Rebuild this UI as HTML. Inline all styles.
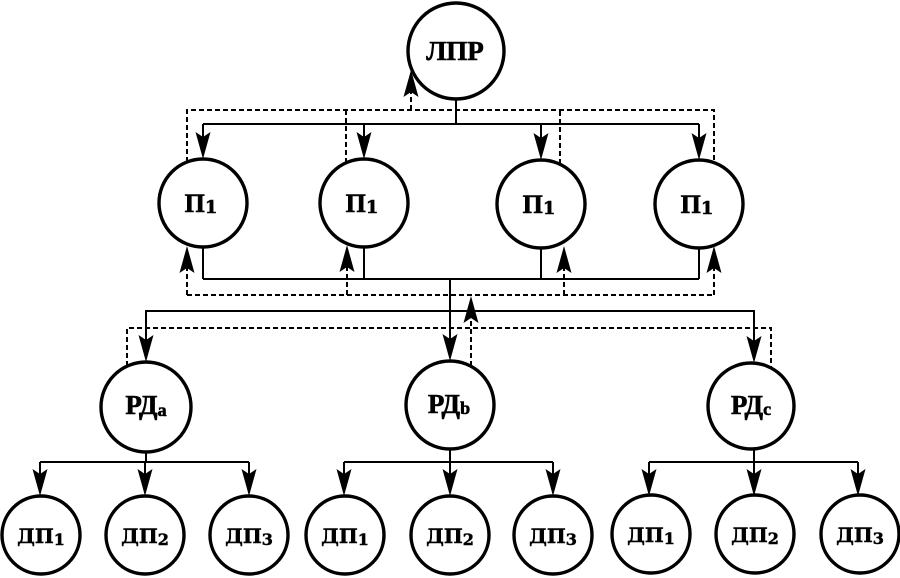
<!DOCTYPE html>
<html>
<head>
<meta charset="utf-8">
<style>
html,body{margin:0;padding:0;background:#fff;}
svg{display:block;}
.c{fill:#fff;stroke:#000;stroke-width:3.4;}
.s{stroke:#000;stroke-width:2;fill:none;}
.d{stroke:#000;stroke-width:2;fill:none;stroke-dasharray:5 3;}
.t{font-family:"Liberation Serif","DejaVu Serif",serif;font-weight:bold;fill:#000;stroke:#000;stroke-width:0.6;}
.t2{font-family:"DejaVu Serif","Liberation Serif",serif;font-weight:bold;fill:#000;stroke:#000;stroke-width:0.5;}
</style>
</head>
<body>
<svg width="900" height="578" viewBox="0 0 900 578" xmlns="http://www.w3.org/2000/svg">
<defs>
  <path id="ad" d="M0,0 L-7.5,-27 L0,-22 L7.5,-27 Z" fill="#000"/>
  <path id="au" d="M0,0 L-7.5,27 L0,22 L7.5,27 Z" fill="#000"/>
</defs>

<!-- ===== Top connectors ===== -->
<path class="s" d="M456,99 V124 M203,124 H699"/>
<path class="s" d="M203,124 V140 M364,124 V140 M541,124 V140 M699,124 V140"/>
<use href="#ad" x="203" y="159"/>
<use href="#ad" x="364" y="159"/>
<use href="#ad" x="541" y="160"/>
<use href="#ad" x="699" y="160"/>
<path class="d" d="M187,162 V110 H714 V162"/>
<path class="d" d="M346,163 V110"/>
<path class="d" d="M560,164 V110"/>
<path class="d" d="M411,110 V90"/>
<use href="#au" x="411" y="70"/>

<!-- ===== Middle connectors ===== -->
<path class="s" d="M203,247 V279 M364,247 V279 M541,248 V279 M699,248 V279 M203,279 H699"/>
<path class="d" d="M187,295 H714"/>
<path class="d" d="M187,295 V266 M347,295 V264 M564,295 V266 M714,295 V266"/>
<use href="#au" x="187" y="246"/>
<use href="#au" x="347" y="245"/>
<use href="#au" x="564" y="246"/>
<use href="#au" x="714" y="246"/>

<path class="s" d="M450,279 V342"/>
<use href="#ad" x="450" y="361"/>
<path class="d" d="M471,366 V316"/>
<use href="#au" x="471" y="296"/>

<path class="s" d="M146,343 V311 H754 V343"/>
<use href="#ad" x="146" y="362"/>
<use href="#ad" x="754" y="363"/>
<path class="d" d="M127,366 V328 H771 V368"/>

<!-- ===== Bottom connectors ===== -->
<path class="s" d="M146,452 V462 M40,462 H249 M40,462 V477 M145,462 V477 M249,462 V477"/>
<use href="#ad" x="40" y="496"/>
<use href="#ad" x="145" y="496"/>
<use href="#ad" x="249" y="496"/>

<path class="s" d="M450,449 V462 M344,462 H553 M344,462 V477 M450,462 V477 M553,462 V477"/>
<use href="#ad" x="344" y="496"/>
<use href="#ad" x="450" y="496"/>
<use href="#ad" x="553" y="496"/>

<path class="s" d="M754,449 V462 M649,462 H858 M649,462 V477 M754,462 V477 M858,462 V477"/>
<use href="#ad" x="649" y="496"/>
<use href="#ad" x="754" y="496"/>
<use href="#ad" x="858" y="496"/>

<!-- ===== Nodes ===== -->
<circle class="c" cx="456" cy="51" r="48"/>
<text class="t" x="455" y="60" font-size="27" text-anchor="middle">ЛПР</text>

<circle class="c" cx="203" cy="203" r="44"/>
<circle class="c" cx="364" cy="203" r="44"/>
<circle class="c" cx="541" cy="204" r="44"/>
<circle class="c" cx="699" cy="204" r="44"/>
<text class="t" x="201" y="212" font-size="26" text-anchor="middle">П<tspan class="t2" font-size="18" dy="1">1</tspan></text>
<text class="t" x="362" y="212" font-size="26" text-anchor="middle">П<tspan class="t2" font-size="18" dy="1">1</tspan></text>
<text class="t" x="539" y="213" font-size="26" text-anchor="middle">П<tspan class="t2" font-size="18" dy="1">1</tspan></text>
<text class="t" x="697" y="213" font-size="26" text-anchor="middle">П<tspan class="t2" font-size="18" dy="1">1</tspan></text>

<circle class="c" cx="146" cy="407" r="45"/>
<circle class="c" cx="450" cy="405" r="44"/>
<circle class="c" cx="751" cy="406" r="43"/>
<text class="t" x="146" y="414" font-size="27" text-anchor="middle">РД<tspan font-size="18" dy="2">a</tspan></text>
<text class="t" x="449" y="413" font-size="27" text-anchor="middle">РД<tspan font-size="18" dy="1">b</tspan></text>
<text class="t" x="751" y="414" font-size="27" text-anchor="middle">РД<tspan font-size="18" dy="1">c</tspan></text>

<circle class="c" cx="41" cy="535" r="39"/>
<circle class="c" cx="145" cy="535" r="39"/>
<circle class="c" cx="249" cy="535" r="39"/>
<circle class="c" cx="345" cy="535" r="39"/>
<circle class="c" cx="450" cy="535" r="39"/>
<circle class="c" cx="553" cy="535" r="39"/>
<circle class="c" cx="651" cy="534" r="39"/>
<circle class="c" cx="755" cy="534" r="39"/>
<circle class="c" cx="860" cy="534" r="39"/>
<g class="t2" font-size="20" text-anchor="middle">
<text x="41" y="543">ДП<tspan font-size="16" dy="2">1</tspan></text>
<text x="145" y="543">ДП<tspan font-size="16" dy="2">2</tspan></text>
<text x="249" y="543">ДП<tspan font-size="16" dy="2">3</tspan></text>
<text x="345" y="543">ДП<tspan font-size="16" dy="2">1</tspan></text>
<text x="450" y="543">ДП<tspan font-size="16" dy="2">2</tspan></text>
<text x="553" y="543">ДП<tspan font-size="16" dy="2">3</tspan></text>
<text x="651" y="542">ДП<tspan font-size="16" dy="2">1</tspan></text>
<text x="755" y="542">ДП<tspan font-size="16" dy="2">2</tspan></text>
<text x="860" y="542">ДП<tspan font-size="16" dy="2">3</tspan></text>
</g>
</svg>
</body>
</html>
